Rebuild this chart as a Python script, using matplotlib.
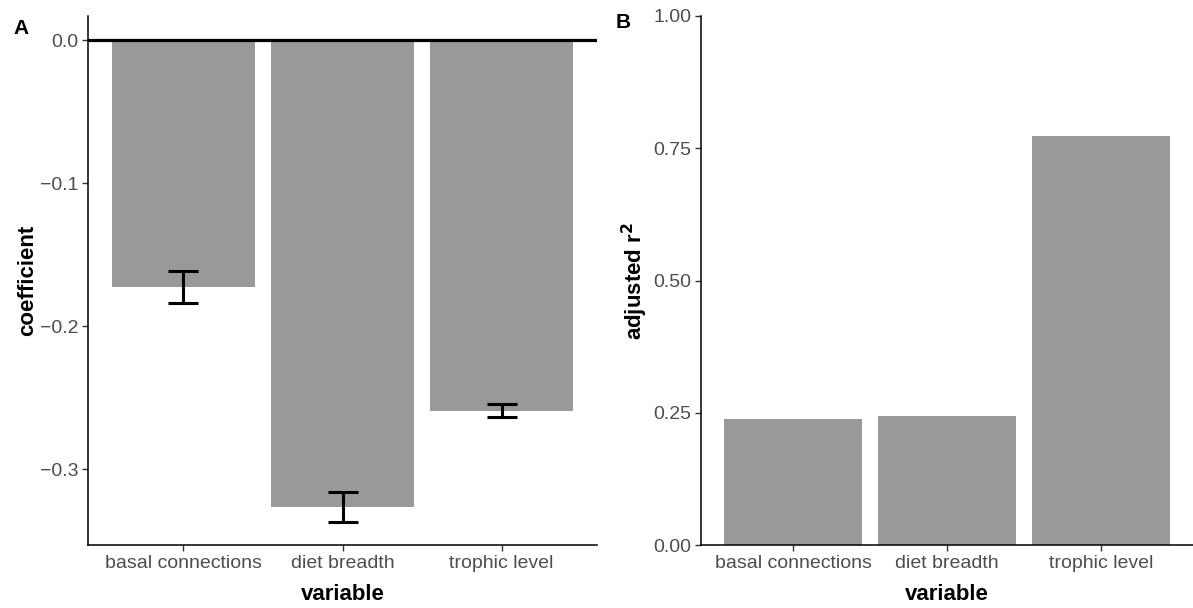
import matplotlib
matplotlib.use("Agg")
import matplotlib.pyplot as plt
import numpy as np

plt.rcParams['font.family'] = ['Liberation Sans', 'DejaVu Sans']

variables = ['basal connections', 'diet breadth', 'trophic level']
coef = [-0.1727, -0.3266, -0.2592]
coef_err = [0.0115, 0.0105, 0.0046]
adj_r2 = [0.238, 0.244, 0.773]

bar_col = '#999999'
tick_col = '#4D4D4D'

fig = plt.figure(figsize=(11.93, 6.08), dpi=100)
axA = fig.add_axes([88 / 1193, 63 / 608, (597 - 88) / 1193, 529 / 608])
axB = fig.add_axes([701 / 1193, 63 / 608, (1193 - 701) / 1193, 529 / 608])

x = np.arange(len(variables))


def style(ax):
    for s in ['top', 'right']:
        ax.spines[s].set_visible(False)
    for s in ['left', 'bottom']:
        ax.spines[s].set_linewidth(1.1)
    ax.tick_params(axis='both', length=4, width=1.0, colors='#333333',
                   labelcolor=tick_col, labelsize=14, pad=3)
    ax.set_xticks(x)
    ax.set_xticklabels(variables)
    ax.set_xlim(-0.6, len(variables) - 0.4)
    ax.set_xlabel('variable', fontsize=16, fontweight='bold', labelpad=9)


# panel A
axA.bar(x, coef, width=0.9, color=bar_col)
axA.axhline(0, color='black', linewidth=2.3)
axA.errorbar(x, coef, yerr=coef_err, fmt='none', ecolor='black',
             elinewidth=2.2, capsize=11, capthick=2.2)
axA.set_ylim(-0.3531, 0.0168)
axA.set_yticks([0.0, -0.1, -0.2, -0.3])
axA.set_yticklabels(['0.0', '\u22120.1', '\u22120.2', '\u22120.3'])
style(axA)
axA.set_ylabel('coefficient', fontsize=16, fontweight='bold', labelpad=1)

# panel B
axB.bar(x, adj_r2, width=0.9, color=bar_col)
axB.set_ylim(0, 1.0)
axB.set_yticks([0, 0.25, 0.5, 0.75, 1.0])
axB.set_yticklabels(['0.00', '0.25', '0.50', '0.75', '1.00'])
style(axB)
axB.set_ylabel('adjusted r$^{\\mathbf{2}}$', fontsize=16, fontweight='bold', labelpad=2)

fig.text(13 / 1193, 1 - 28 / 608, 'A', fontsize=15, fontweight='bold', va='center')
fig.text(616 / 1193, 1 - 23 / 608, 'B', fontsize=15, fontweight='bold', va='center')

fig.savefig('out.png', dpi=100)
